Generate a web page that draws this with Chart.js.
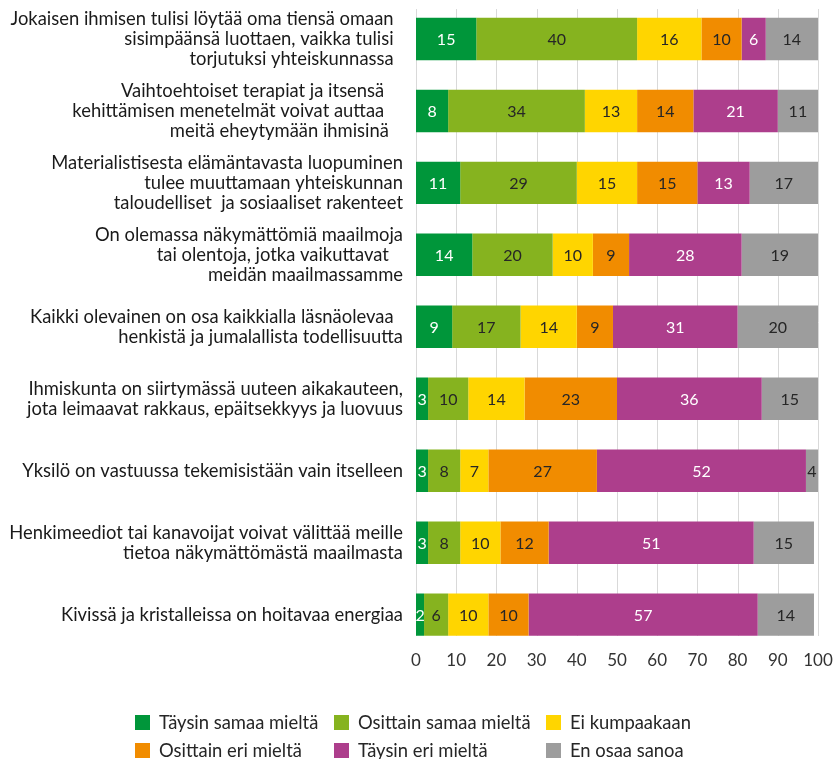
<!DOCTYPE html>
<html>
<head>
<meta charset="utf-8">
<script src="https://cdn.jsdelivr.net/npm/chart.js@4"></script>
<style>
  body { margin: 0; background: #fff; }
  #wrap { width: 840px; height: 759px; }
</style>
</head>
<body>
<div id="wrap"><canvas id="chart"></canvas></div>
<script>
const statements = [
  ["Jokaisen ihmisen tulisi löytää oma tiensä omaan  ", "sisimpäänsä luottaen, vaikka tulisi  ", "torjutuksi yhteiskunnassa  "],
  ["Vaihtoehtoiset terapiat ja itsensä    ", "kehittämisen menetelmät voivat auttaa    ", "meitä eheytymään ihmisinä   "],
  ["Materialistisesta elämäntavasta luopuminen", "tulee muuttamaan yhteiskunnan", "taloudelliset  ja sosiaaliset rakenteet"],
  ["On olemassa näkymättömiä maailmoja", "tai olentoja, jotka vaikuttavat   ", "meidän maailmassamme"],
  ["Kaikki olevainen on osa kaikkialla läsnäolevaa  ", "henkistä ja jumalallista todellisuutta"],
  ["Ihmiskunta on siirtymässä uuteen aikakauteen,", "jota leimaavat rakkaus, epäitsekkyys ja luovuus"],
  "Yksilö on vastuussa tekemisistään vain itselleen",
  ["Henkimeediot tai kanavoijat voivat välittää meille", "tietoa näkymättömästä maailmasta"],
  "Kivissä ja kristalleissa on hoitavaa energiaa"
];

const fullyAgree     = [15,  8, 11, 14,  9,  3,  3,  3,  2];
const partlyAgree    = [40, 34, 29, 20, 17, 10,  8,  8,  6];
const neither        = [16, 13, 15, 10, 14, 14,  7, 10, 10];
const partlyDisagree = [10, 14, 15,  9,  9, 23, 27, 12, 10];
const fullyDisagree  = [ 6, 21, 13, 28, 31, 36, 52, 51, 57];
const cantSay        = [14, 11, 17, 19, 20, 15,  4, 15, 14];

const seriesNames = ["Täysin samaa mieltä", "Osittain samaa mieltä", "Ei kumpaakaan",
                     "Osittain eri mieltä", "Täysin eri mieltä", "En osaa sanoa"];
const xTicks = [0, 10, 20, 30, 40, 50, 60, 70, 80, 90, 100];

const FONT = "Lato, 'Open Sans', sans-serif";
const colors = ["#00963a", "#86b31f", "#ffd500", "#f18c00", "#ad3e8c", "#9d9d9d"];
const labelColors = ["#ffffff", "#262626", "#262626", "#262626", "#ffffff", "#262626"];

const seriesValues = [fullyAgree, partlyAgree, neither, partlyDisagree, fullyDisagree, cantSay];

// gridlines only over the bars, like the original
const gridPlugin = {
  id: "grid",
  beforeDatasetsDraw(chart) {
    const ctx = chart.ctx, xs = chart.scales.x;
    ctx.save();
    ctx.strokeStyle = "#d9d9d9";
    ctx.lineWidth = 1;
    xTicks.forEach(v => {
      const x = Math.round(xs.getPixelForValue(v)) + 0.5;
      ctx.beginPath();
      ctx.moveTo(x, 9);
      ctx.lineTo(x, 636);
      ctx.stroke();
    });
    ctx.restore();
  }
};

const valueLabels = {
  id: "valueLabels",
  afterDatasetsDraw(chart) {
    const ctx = chart.ctx, area = chart.chartArea;
    ctx.save();
    ctx.font = "16px " + FONT;
    ctx.textAlign = "center";
    ctx.textBaseline = "middle";
    chart.data.datasets.forEach((ds, i) => {
      chart.getDatasetMeta(i).data.forEach((bar, j) => {
        const left = Math.max(Math.min(bar.x, bar.base), area.left);
        const right = Math.min(Math.max(bar.x, bar.base), area.right);
        ctx.fillStyle = labelColors[i];
        ctx.fillText(String(ds.data[j]), (left + right) / 2, bar.y + 1);
      });
    });
    ctx.restore();
  }
};

const gridLegend = {
  id: "gridLegend",
  afterDraw(chart) {
    const ctx = chart.ctx;
    const cols = [135, 334, 546], rows = [715, 743];
    ctx.save();
    ctx.font = "18.4px " + FONT;
    ctx.textBaseline = "middle";
    ctx.textAlign = "left";
    chart.data.datasets.forEach((ds, i) => {
      const x = cols[i % 3], y = rows[Math.floor(i / 3)];
      ctx.fillStyle = ds.backgroundColor;
      ctx.fillRect(x, y, 15, 15);
      ctx.fillStyle = "#262626";
      ctx.fillText(ds.label, x + 24, y + 8);
    });
    ctx.restore();
  }
};

new Chart(document.getElementById("chart"), {
  type: "bar",
  data: {
    labels: statements,
    datasets: seriesValues.map((vals, i) => ({
      label: seriesNames[i],
      data: vals,
      backgroundColor: colors[i],
      borderWidth: 0,
      categoryPercentage: 1,
      barPercentage: 0.59
    }))
  },
  options: {
    indexAxis: "y",
    responsive: true,
    maintainAspectRatio: false,
    animation: false,
    layout: { padding: { top: 3, right: 22, bottom: 88, left: 0 } },
    plugins: {
      legend: { display: false },
      tooltip: { enabled: false }
    },
    scales: {
      x: {
        stacked: true,
        min: 0,
        max: 100,
        afterBuildTicks(scale) { scale.ticks = xTicks.map(v => ({ value: v })); },
        grid: { display: false, drawTicks: false },
        border: { display: false },
        ticks: { padding: 0, color: "#333333", font: { family: FONT, size: 17, lineHeight: 1.2 } }
      },
      y: {
        stacked: true,
        grid: { display: false, drawTicks: false },
        border: { display: false },
        afterFit(scale) {
          scale.width = 416;
          scale.paddingTop = 0;
          scale.paddingBottom = 0;
        },
        ticks: { padding: 13, color: "#1a1a1a", autoSkip: false, font: { family: FONT, size: 18.4, lineHeight: 1.087 } }
      }
    }
  },
  plugins: [gridPlugin, valueLabels, gridLegend]
});
</script>
</body>
</html>
